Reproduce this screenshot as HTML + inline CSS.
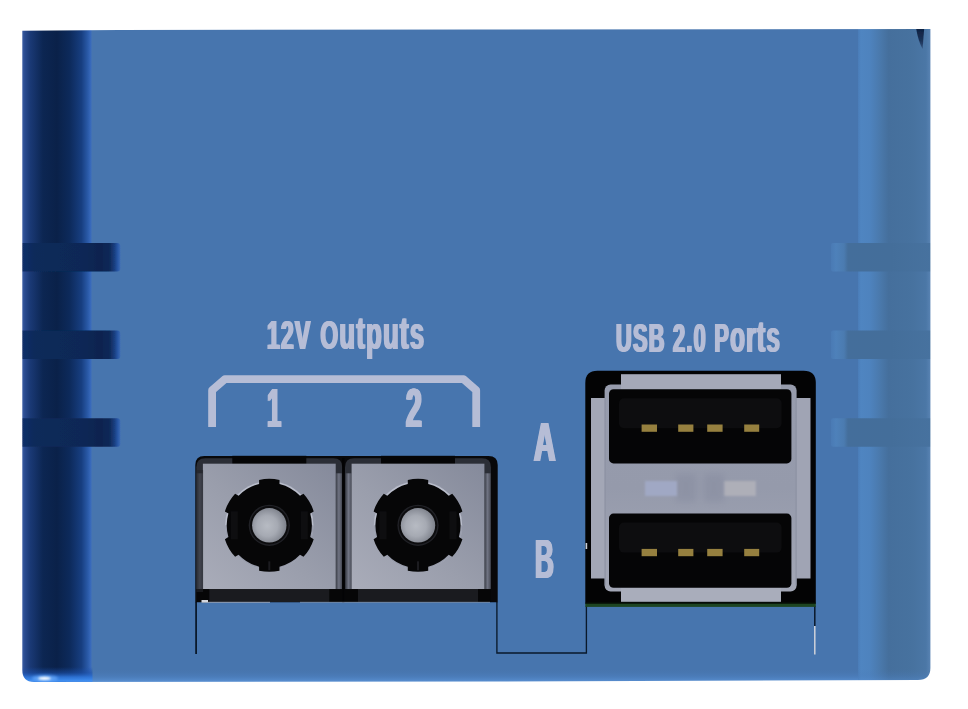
<!DOCTYPE html>
<html lang="en">
<head>
<meta charset="utf-8">
<title>Rear panel - 12V Outputs and USB 2.0 Ports</title>
<style>
  html, body { margin: 0; padding: 0; background: #ffffff; }
  body { width: 968px; height: 709px; position: relative; overflow: hidden;
         font-family: "Liberation Sans", sans-serif; }
  #art { position: absolute; left: 0; top: 0; width: 968px; height: 709px; display: block; }
  .lbl { position: absolute; color: #b6bdd6; font-weight: bold; white-space: nowrap;
         line-height: 1; transform-origin: 0 0; letter-spacing: 0; }
  .lbl .lc { font-size: 1.12em; }
  .t1 { text-shadow: 1.7px 0 0 #b6bdd6, -1.7px 0 0 #b6bdd6; }
  .t2 { text-shadow: 2.3px 0 0 #b6bdd6, -2.3px 0 0 #b6bdd6, 1.2px 0 0 #b6bdd6, -1.2px 0 0 #b6bdd6; }
</style>
</head>
<body>
<svg id="art" width="968" height="709" viewBox="0 0 968 709">
  <defs>
    <linearGradient id="gLeft" x1="0" y1="0" x2="1" y2="0">
      <stop offset="0" stop-color="#3d5fa6"/>
      <stop offset="0.04" stop-color="#2a4b8f"/>
      <stop offset="0.12" stop-color="#1a3975"/>
      <stop offset="0.30" stop-color="#0c2652"/>
      <stop offset="0.50" stop-color="#0a2149"/>
      <stop offset="0.68" stop-color="#0d2a5b"/>
      <stop offset="0.85" stop-color="#173e80"/>
      <stop offset="0.94" stop-color="#2a5aa8"/>
      <stop offset="0.985" stop-color="#3a6bbd"/>
      <stop offset="1" stop-color="#4775ae"/>
    </linearGradient>
    <linearGradient id="gRight" x1="0" y1="0" x2="1" y2="0">
      <stop offset="0" stop-color="#4a7cb8"/>
      <stop offset="0.04" stop-color="#4f85c1"/>
      <stop offset="0.16" stop-color="#4e83be"/>
      <stop offset="0.30" stop-color="#4a79ac"/>
      <stop offset="0.42" stop-color="#456f9c"/>
      <stop offset="0.75" stop-color="#47729f"/>
      <stop offset="0.93" stop-color="#4b77a6"/>
      <stop offset="1" stop-color="#5a84b4"/>
    </linearGradient>
    <linearGradient id="gSlotL" gradientUnits="userSpaceOnUse" x1="22" y1="0" x2="120.5" y2="0">
      <stop offset="0" stop-color="#12306a"/>
      <stop offset="0.12" stop-color="#0d2a5a"/>
      <stop offset="0.60" stop-color="#0c2856"/>
      <stop offset="0.80" stop-color="#0a234f"/>
      <stop offset="0.89" stop-color="#0d2958"/>
      <stop offset="0.94" stop-color="#1a3f82"/>
      <stop offset="0.975" stop-color="#2a59a8"/>
      <stop offset="1" stop-color="#3f6db3"/>
    </linearGradient>
    <filter id="blurS" x="-5%" y="-20%" width="110%" height="140%"><feGaussianBlur stdDeviation="0.6"/></filter>
    <linearGradient id="gSlotR" gradientUnits="userSpaceOnUse" x1="831" y1="0" x2="931" y2="0">
      <stop offset="0" stop-color="#4a7ab4"/>
      <stop offset="0.05" stop-color="#4e81ba"/>
      <stop offset="0.13" stop-color="#4b7bb0"/>
      <stop offset="0.17" stop-color="#446e9b"/>
      <stop offset="0.60" stop-color="#446e9a"/>
      <stop offset="1" stop-color="#47729f"/>
    </linearGradient>
    <linearGradient id="gBottom" x1="0" y1="0" x2="0" y2="1">
      <stop offset="0" stop-color="#4775ae" stop-opacity="0"/>
      <stop offset="0.55" stop-color="#4d80bf" stop-opacity="0.6"/>
      <stop offset="1" stop-color="#5c93d6" stop-opacity="1"/>
    </linearGradient>
    <linearGradient id="gNotch" gradientUnits="userSpaceOnUse" x1="0" y1="29" x2="0" y2="50">
      <stop offset="0" stop-color="#0f2242"/>
      <stop offset="0.55" stop-color="#1a3156"/>
      <stop offset="1" stop-color="#3a5a86"/>
    </linearGradient>
    <filter id="blurN" x="-50%" y="-20%" width="200%" height="140%"><feGaussianBlur stdDeviation="0.7"/></filter>
    <linearGradient id="gRim" x1="0" y1="0" x2="0" y2="1">
      <stop offset="0" stop-color="#1a4ea8" stop-opacity="0"/>
      <stop offset="0.35" stop-color="#1c52ae" stop-opacity="0.55"/>
      <stop offset="0.62" stop-color="#2e73d6" stop-opacity="0.95"/>
      <stop offset="0.85" stop-color="#3f8cee" stop-opacity="1"/>
      <stop offset="1" stop-color="#3a7fdc" stop-opacity="1"/>
    </linearGradient>
    <filter id="blurH" x="-30%" y="-100%" width="160%" height="300%"><feGaussianBlur stdDeviation="1.6"/></filter>
    <filter id="blurH2" x="-30%" y="-100%" width="160%" height="300%"><feGaussianBlur stdDeviation="0.8"/></filter>
    <filter id="blurM" x="-2%" y="-2%" width="104%" height="104%"><feGaussianBlur stdDeviation="0.7"/></filter>
    <mask id="bodyMask" maskUnits="userSpaceOnUse" x="0" y="0" width="968" height="709">
      <path d="M22.3 30.8 L120 30.1 L480 29.4 L930.4 29.1 V668 Q930.4 679.9 918 679.9 L500 681.6 L34 682 Q22.3 682 22.3 670 Z" fill="#fff" filter="url(#blurM)"/>
    </mask>
  </defs>

  <!-- main enclosure -->
  <g mask="url(#bodyMask)">
    <rect x="22" y="29" width="909" height="653" fill="#4775ae"/>
    <rect x="22" y="29" width="70" height="653" fill="url(#gLeft)"/>
    <rect x="858" y="29" width="73" height="653" fill="url(#gRight)"/>
    <!-- bottom lighter lip on the face -->
    <rect x="92" y="668.5" width="766" height="14" fill="url(#gBottom)"/>
    <rect x="858" y="669" width="73" height="13" fill="url(#gBottom)" opacity="0.55"/>
    <!-- glossy rim under the left rounded edge -->
    <rect x="22" y="667" width="70.5" height="16" fill="url(#gRim)"/>
    <ellipse cx="45" cy="678.3" rx="13" ry="3" fill="#6fb0ff" opacity="0.75" filter="url(#blurH)"/>
    <ellipse cx="44.5" cy="678.4" rx="6.2" ry="1.7" fill="#ffffff" filter="url(#blurH2)"/>
    <!-- side slots -->
    <g fill="url(#gSlotL)" filter="url(#blurS)">
      <rect x="15" y="243" width="105.5" height="28.5" rx="3.5"/>
      <rect x="15" y="330.5" width="105.5" height="28.5" rx="3.5"/>
      <rect x="15" y="418.3" width="105.5" height="28.5" rx="3.5"/>
    </g>
    <g fill="url(#gSlotR)">
      <rect x="831" y="243" width="104" height="28.5" rx="2"/>
      <rect x="831" y="330.5" width="104" height="28.5" rx="2"/>
      <rect x="831" y="418.3" width="104" height="28.5" rx="2"/>
    </g>
    <!-- dark notch at top right -->
    <path d="M916 28 H924.2 L922.6 49 Q918.5 42 916 28 Z" fill="url(#gNotch)" filter="url(#blurN)"/>
  </g>

  <!-- SECTION:OUTLINES -->
  <g stroke="#0a192b" fill="none">
    <path d="M196.1 602 V654" stroke-width="1.8"/>
    <path d="M496.9 602 V653 H586.4 V606" stroke-width="1.35"/>
    <path d="M814.8 606 V626" stroke-width="1.5"/>
  </g>
  <path d="M814.8 626 V654.5" stroke="#cfd2da" stroke-width="1.5" fill="none"/>

  <!-- SECTION:BRACKET -->
  <path d="M212.1 427 V390.2 L224.8 379.2 H463.6 L476.2 390.2 V427" fill="none" stroke="#b6bdd6" stroke-width="7.8" stroke-linejoin="round"/>

  <!-- SECTION:DC -->
  <defs>
    <linearGradient id="gFace" x1="0" y1="1" x2="1" y2="0">
      <stop offset="0" stop-color="#a9acb9"/>
      <stop offset="0.45" stop-color="#9a9eac"/>
      <stop offset="1" stop-color="#858a9b"/>
    </linearGradient>
    <radialGradient id="gPin" cx="0.44" cy="0.52" r="0.6">
      <stop offset="0" stop-color="#b7bbc3"/>
      <stop offset="0.5" stop-color="#a6aab3"/>
      <stop offset="1" stop-color="#787c86"/>
    </radialGradient>
    <filter id="blurP" x="-20%" y="-20%" width="140%" height="140%"><feGaussianBlur stdDeviation="0.7"/></filter>
    <linearGradient id="gTube" x1="0" y1="0" x2="1" y2="0">
      <stop offset="0" stop-color="#3a3d46"/>
      <stop offset="0.5" stop-color="#6f7382"/>
      <stop offset="1" stop-color="#4a4d58"/>
    </linearGradient>
    <g id="dcjack">
      <!-- rim -->
      <path d="M-73 76 V-58 Q-73 -67 -64 -67 H64 Q73 -67 73 -58 V76 Z" fill="#2b2e36"/>
      <rect x="-72.6" y="-52" width="6.2" height="119" fill="url(#gTube)"/>
      <rect x="66.4" y="-52" width="6.2" height="119" fill="url(#gTube)"/>
      <rect x="-37" y="-69.5" width="74" height="8" fill="#050506"/>
      <!-- face -->
      <rect x="-66.4" y="-61.6" width="132.8" height="125.4" fill="url(#gFace)"/>
      <!-- lower dark ledge -->
      <rect x="-73" y="63.8" width="146" height="12.9" fill="#1a1b1f"/>
      <rect x="-73" y="63.8" width="13" height="12.9" fill="#060607"/>
      <rect x="60" y="63.8" width="13" height="12.9" fill="#060607"/>
      <!-- light ring peeking in the notches -->
      <circle cx="0" cy="0" r="44.2" fill="#b9bdcb"/>
      <path d="M-44.2 0 A44.2 44.2 0 0 0 44.2 0 Z" fill="#8f93a2" opacity="0.75"/>
      <!-- socket -->
      <path d="M10.2 -41.4 L10.2 -45.4 A46.5 46.5 0 0 0 -10.2 -45.4 L-10.2 -41.4 A42.6 42.6 0 0 0 -30.7 -29.5 L-34.2 -31.5 A46.5 46.5 0 0 0 -44.4 -13.9 L-40.9 -11.8 A42.6 42.6 0 0 0 -40.9 11.8 L-44.4 13.9 A46.5 46.5 0 0 0 -34.2 31.5 L-30.7 29.5 A42.6 42.6 0 0 0 -10.2 41.4 L-10.2 45.4 A46.5 46.5 0 0 0 10.2 45.4 L10.2 41.4 A42.6 42.6 0 0 0 30.7 29.5 L34.2 31.5 A46.5 46.5 0 0 0 44.4 13.9 L40.9 11.8 A42.6 42.6 0 0 0 40.9 -11.8 L44.4 -13.9 A46.5 46.5 0 0 0 34.2 -31.5 L30.7 -29.5 A42.6 42.6 0 0 0 10.2 -41.4 Z" fill="#060607"/>
      <rect x="-38.5" y="-14" width="7" height="28" fill="#0e0e10"/>
      <rect x="31.5" y="-14" width="7" height="28" fill="#0e0e10"/>
      <circle cx="0" cy="0" r="20.6" fill="#202126"/>
      <circle cx="0" cy="0" r="19.2" fill="#0c0c0e"/>
      <circle cx="0" cy="0" r="17.2" fill="url(#gPin)" filter="url(#blurP)"/>
      <rect x="-1" y="36" width="2" height="9" fill="#1c1c20"/>
    </g>
  </defs>
  <!-- cut-out in the panel -->
  <path d="M195.3 602.3 V465 Q195.3 456 204.3 456 H488.5 Q497.7 456 497.7 465 V602.3 Z" fill="#08080a"/>
  <use href="#dcjack" x="269.3" y="525.3"/>
  <use href="#dcjack" x="418" y="525.3"/>
  <rect x="342.2" y="458" width="2.2" height="144.3" fill="#030304"/>
  <rect x="196.5" y="470" width="6.6" height="122" fill="#23252c" opacity="0.6"/>
  <!-- tiny highlights under the ledge -->
  <rect x="201.5" y="600" width="6.5" height="2.6" fill="#d4d6dc"/>
  <rect x="208" y="601.8" width="62" height="1" fill="#aeb7c8" opacity="0.8"/>
  <rect x="300" y="601.8" width="190" height="1" fill="#9fb0cc" opacity="0.6"/>

  <!-- SECTION:USB -->
  <defs>
    <linearGradient id="gShell" x1="0" y1="0" x2="0" y2="1">
      <stop offset="0" stop-color="#979cad"/>
      <stop offset="0.5" stop-color="#959aab"/>
      <stop offset="1" stop-color="#a3a7b6"/>
    </linearGradient>
    <g id="usbport">
      <rect x="0" y="0" width="182.4" height="74.2" rx="4.5" fill="#050506"/>
      <rect x="10" y="9" width="162.6" height="30" rx="5" fill="#0d0d0f"/>
      <g fill="#96803f">
        <rect x="32.6" y="35.3" width="15.4" height="7.3"/>
        <rect x="69.2" y="35.3" width="15.2" height="7.3"/>
        <rect x="98.2" y="35.3" width="15.4" height="7.3"/>
        <rect x="135.2" y="35.3" width="15" height="7.3"/>
      </g>
    </g>
    <filter id="blur2" x="-50%" y="-50%" width="200%" height="200%"><feGaussianBlur stdDeviation="3.2"/></filter>
    <filter id="blur1" x="-20%" y="-40%" width="140%" height="180%"><feGaussianBlur stdDeviation="0.8"/></filter>
  </defs>
  <!-- cut-out -->
  <path d="M585.3 603.2 V383 Q585.3 370.8 597.5 370.8 H803.6 Q815.8 370.8 815.8 383 V603.2 Z" fill="#030304"/>
  <!-- pcb edge -->
  <rect x="585.3" y="603.5" width="230.5" height="3.4" fill="#1d4522"/>
  <rect x="585.3" y="602.6" width="230.5" height="1.4" fill="#0b1a0c"/>
  <!-- shield side flanges -->
  <rect x="591" y="398" width="16" height="180.5" fill="#a3a7b6"/>
  <rect x="794" y="398" width="16.5" height="180.5" fill="#a0a4b4"/>
  <!-- main shell -->
  <rect x="604.6" y="384.6" width="192" height="206.8" rx="6" fill="url(#gShell)"/>
  <path d="M605.1 398 V585.4 M796.1 398 V585.4" fill="none" stroke="#8b90a2" stroke-width="1"/>
  <!-- top / bottom flanges -->
  <rect x="621" y="374.2" width="160" height="15.4" fill="#a5a9b8"/>
  <rect x="621" y="587.4" width="160" height="14.4" fill="#a9adbb"/>
  <!-- spring tabs in the middle bar -->
  <g filter="url(#blur2)" opacity="0.3">
    <rect x="676" y="474" width="20" height="28" fill="#7d8296"/>
    <rect x="704" y="474" width="20" height="28" fill="#7d8296"/>
  </g>
  <g filter="url(#blur1)">
    <rect x="645" y="481" width="32" height="15" fill="#a0a8c4"/>
    <rect x="724.3" y="481" width="31.6" height="15" fill="#aeafb8"/>
  </g>
  <use href="#usbport" x="609" y="389.2"/>
  <use href="#usbport" x="609" y="513.6"/>
  <rect x="585.6" y="543" width="1.6" height="6" fill="#c9ccd4"/>

</svg>

<!-- SECTION:LABELS -->
<div class="lbl t1" id="l12v" style="left:267px; top:310px; font-size:41.5px; transform:scaleX(0.55); letter-spacing:2.4px; word-spacing:2px;">12V O<span class="lc">utputs</span></div>
<div class="lbl t1" id="lusb" style="left:615.6px; top:313.5px; font-size:40px; transform:scaleX(0.542); letter-spacing:2.4px;">USB 2.0 P<span class="lc">orts</span></div>
<div class="lbl t2" id="n1" style="left:267.2px; top:380.5px; font-size:55.5px; transform:scaleX(0.46);">1</div>
<div class="lbl t2" id="n2" style="left:406.2px; top:380.5px; font-size:55.5px; transform:scaleX(0.51);">2</div>
<div class="lbl t2" id="la" style="left:534px; top:414.6px; font-size:55.4px; transform:scaleX(0.535);">A</div>
<div class="lbl t2" id="lb" style="left:535px; top:531.6px; font-size:55.4px; transform:scaleX(0.47);">B</div>
</body>
</html>
